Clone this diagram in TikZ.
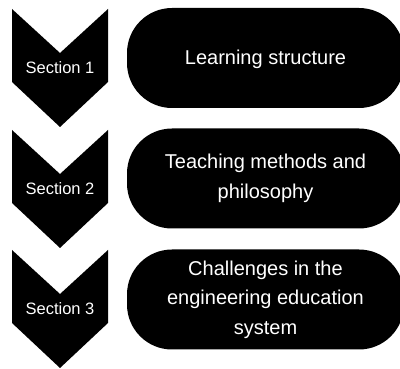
\documentclass[tikz,border=0pt]{standalone}
\usepackage{fontspec}
\setmainfont{Liberation Sans}
\begin{document}
\begin{tikzpicture}[x=1pt,y=-1pt,
  chevron/.style={fill=black},
  seclabel/.style={text=white,font=\fontsize{16.5}{20}\selectfont,inner sep=0pt},
  topic/.style={fill=black,rounded corners=45pt,minimum width=277pt,
    minimum height=100pt,text=white,align=center,
    font=\fontsize{20}{29.5}\selectfont,inner sep=0pt}]
\useasboundingbox (0,0) rectangle (400,369);
\clip (0,0) rectangle (400,369);
% downward chevrons with the section numbers
\foreach \top/\n in {9/1,130/2,250/3}{
  \fill[chevron] (12,\top) -- (60,\top+44) -- (108,\top) -- (108,\top+73)
    -- (60,\top+118) -- (12,\top+73) -- cycle;
  \node[seclabel] (sec\n) at (60,\top+59) {Section \n};
}
% rounded topic boxes
\node[topic] (topic1) at (265.5,58) {\raisebox{-1.7pt}[\height][\depth]{Learning structure}};
\node[topic] (topic2) at (265.5,178.5) {Teaching methods and\\philosophy};
\node[topic] (topic3) at (265.5,299.5) {Challenges in the\\engineering education\\system};
\end{tikzpicture}
\end{document}
